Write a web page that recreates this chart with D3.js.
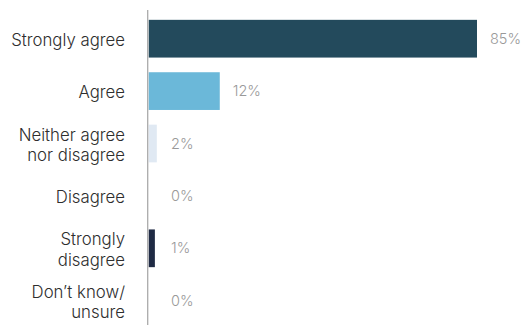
<!DOCTYPE html>
<html>
<head>
<meta charset="utf-8">
<script src="https://cdn.jsdelivr.net/npm/d3@7"></script>
<style>
  html, body { margin: 0; padding: 0; background: #fff; }
  svg { display: block; }
</style>
</head>
<body>
<svg id="chart" width="524" height="325"></svg>
<script>
const categories = [
  ["Strongly agree"],
  ["Agree"],
  ["Neither agree", "nor disagree"],
  ["Disagree"],
  ["Strongly", "disagree"],
  ["Don\u2019t know/", "unsure"]
];
// bar lengths (percent units)
const barValues = [85, 18.4, 2.1, 0, 1.6, 0];
const valueLabels = ["85%", "12%", "2%", "0%", "1%", "0%"];
const barColors = ["#234a5c", "#6bb8d9", "#e0e9f3", "#e0e9f3", "#1f2a44", "#1f2a44"];

const svg = d3.select("#chart");
const x0 = 148.7;
const x = d3.scaleLinear().domain([0, 85]).range([x0, 477]);
const y = d3.scaleBand()
  .domain(d3.range(categories.length))
  .range([12.5, 326.9])
  .paddingInner(0.28)
  .paddingOuter(0.14);

// bars
svg.append("g").selectAll("rect")
  .data(barValues)
  .join("rect")
  .attr("x", x0)
  .attr("y", (d, i) => y(i))
  .attr("width", d => Math.max(0, x(d) - x0))
  .attr("height", y.bandwidth())
  .attr("fill", (d, i) => barColors[i]);

// axis line
svg.append("line")
  .attr("x1", 147.7).attr("x2", 147.7)
  .attr("y1", 10).attr("y2", 325)
  .attr("stroke", "#aaaaaa").attr("stroke-width", 1.3);

// category labels
const lab = svg.append("g").selectAll("text")
  .data(categories)
  .join("text")
  .attr("text-anchor", "end")
  .attr("font-family", "Inter, sans-serif")
  .attr("font-size", 16.8)
  .attr("font-weight", 300)
  .attr("fill", "#2e2e2e");
lab.each(function(lines, i) {
  const cy = y(i) + y.bandwidth() / 2;
  const lh = 20.6;
  const start = cy - (lines.length - 1) * lh / 2 + 1.5;
  d3.select(this).selectAll("tspan")
    .data(lines)
    .join("tspan")
    .attr("x", 125)
    .attr("y", (l, j) => start + j * lh)
    .attr("dy", "0.35em")
    .text(l => l);
});

// value labels
svg.append("g").selectAll("text")
  .data(barValues)
  .join("text")
  .attr("x", d => Math.max(x(d) + 13, 171))
  .attr("y", (d, i) => y(i) + y.bandwidth() / 2)
  .attr("dy", "0.35em")
  .attr("font-family", "Inter, sans-serif")
  .attr("font-size", 14.5)
  .attr("font-weight", 300)
  .attr("fill", "#999999")
  .text((d, i) => valueLabels[i]);
</script>
</body>
</html>
